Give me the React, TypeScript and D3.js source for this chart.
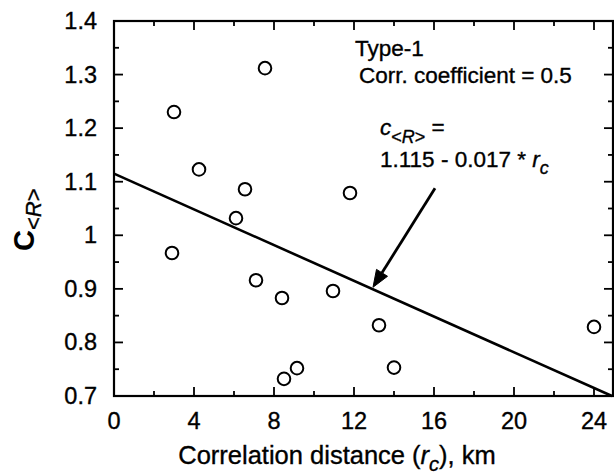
import React from "react";
import * as d3 from "d3";

const pointX = [2.9, 3.0, 4.25, 6.55, 6.1, 7.55, 7.1, 8.4, 8.5, 9.15, 10.95, 13.25, 14.0, 24.0, 11.8];
const pointY = [0.967, 1.23, 1.123, 1.086, 1.032, 1.312, 0.916, 0.883, 0.732, 0.752, 0.896, 0.832, 0.753, 0.829, 1.079];

const fitX = [0, 24.9];
const fitY = [1.115, 0.7];

const arrowX = [16.05, 12.95];
const arrowY = [1.088, 0.903];

const xMajor = [0, 4, 8, 12, 16, 20, 24];
const xMinor = [2, 6, 10, 14, 18, 22];
const yMajor = [0.7, 0.8, 0.9, 1.0, 1.1, 1.2, 1.3, 1.4];
const yMinor = [0.75, 0.85, 0.95, 1.05, 1.15, 1.25, 1.35];
const yTickLabels = ["0.7", "0.8", "0.9", "1", "1.1", "1.2", "1.3", "1.4"];

const FONT = "'Liberation Sans', Arial, Helvetica, sans-serif";

export default function App() {
  const W = 614, H = 475;
  const x = d3.scaleLinear().domain([0, 24.95]).range([114, 613]);
  const y = d3.scaleLinear().domain([0.7, 1.4]).range([396, 21]);
  const [x0, x1] = x.range();
  const [y0, y1] = y.range();

  const line = d3.line<number>().x((_, i) => x(fitX[i])).y((d) => y(d));

  // arrow geometry
  const ax0 = x(arrowX[0]), ay0 = y(arrowY[0]);
  const ax1 = x(arrowX[1]), ay1 = y(arrowY[1]);
  const ang = Math.atan2(ay1 - ay0, ax1 - ax0);
  const headLen = 17, headW = 6.5;
  const bx = ax1 - headLen * Math.cos(ang), by = ay1 - headLen * Math.sin(ang);
  const px = -Math.sin(ang), py = Math.cos(ang);
  const head = `M${ax1},${ay1} L${bx + px * headW},${by + py * headW} L${bx - px * headW},${by - py * headW} Z`;

  const majLen = 9, minLen = 5;
  const txtStroke = { stroke: "#000", strokeWidth: 0.35 };

  return (
    <svg width={W} height={H} style={{ position: "absolute", left: 0, top: 0, background: "#fff" }} fontFamily={FONT}>
      {/* ticks */}
      <g stroke="#000" strokeWidth={1.8}>
        {xMajor.map((v) => (
          <g key={"xm" + v}>
            <line x1={x(v)} x2={x(v)} y1={y0} y2={y0 - majLen} />
            <line x1={x(v)} x2={x(v)} y1={y1} y2={y1 + majLen} />
          </g>
        ))}
        {xMinor.map((v) => (
          <g key={"xn" + v}>
            <line x1={x(v)} x2={x(v)} y1={y0} y2={y0 - minLen} />
            <line x1={x(v)} x2={x(v)} y1={y1} y2={y1 + minLen} />
          </g>
        ))}
        {yMajor.map((v) => (
          <g key={"ym" + v}>
            <line x1={x0} x2={x0 + majLen} y1={y(v)} y2={y(v)} />
            <line x1={x1} x2={x1 - majLen} y1={y(v)} y2={y(v)} />
          </g>
        ))}
        {yMinor.map((v) => (
          <g key={"yn" + v}>
            <line x1={x0} x2={x0 + minLen} y1={y(v)} y2={y(v)} />
            <line x1={x1} x2={x1 - minLen} y1={y(v)} y2={y(v)} />
          </g>
        ))}
      </g>
      {/* frame */}
      <rect x={x0} y={y1} width={x1 - x0} height={y0 - y1} fill="none" stroke="#000" strokeWidth={2.2} />

      {/* tick labels */}
      <g fontSize={23.5} fill="#000" {...txtStroke}>
        {xMajor.map((v) => (
          <text key={"xl" + v} x={x(v)} y={429} textAnchor="middle">{v}</text>
        ))}
        {yMajor.map((v, i) => (
          <text key={"yl" + v} x={97} y={y(v) + 8} textAnchor="end">{yTickLabels[i]}</text>
        ))}
      </g>

      {/* fit line */}
      <path d={line(fitY) || ""} fill="none" stroke="#000" strokeWidth={2.6} />

      {/* points */}
      <g fill="none" stroke="#000" strokeWidth={2}>
        {pointX.map((v, i) => (
          <circle key={"p" + i} cx={x(v)} cy={y(pointY[i])} r={6.3} />
        ))}
      </g>

      {/* arrow */}
      <line x1={ax0} y1={ay0} x2={bx} y2={by} stroke="#000" strokeWidth={2.8} />
      <path d={head} fill="#000" stroke="#000" strokeWidth={1} />

      {/* annotations */}
      <g fontSize={22.5} fill="#000" {...txtStroke}>
        <text x={355} y={56}>Type-1</text>
        <text x={359} y={83}>Corr. coefficient = 0.5</text>
        <text x={380} y={135}>
          <tspan fontStyle="italic">c</tspan>
          <tspan dy={8} fontSize={18}>&lt;<tspan fontStyle="italic">R</tspan>&gt;</tspan>
          <tspan dy={-8}> =</tspan>
        </text>
        <text x={380} y={167}>
          1.115 - 0.017 * <tspan fontStyle="italic">r</tspan>
          <tspan dy={7} fontSize={18} fontStyle="italic">c</tspan>
        </text>
      </g>

      {/* x axis title */}
      <text x={337} y={464} fontSize={25.5} textAnchor="middle" fill="#000" {...txtStroke}>
        Correlation distance (<tspan fontStyle="italic">r</tspan>
        <tspan dy={7} fontSize={20} fontStyle="italic">c</tspan>
        <tspan dy={-7}>), km</tspan>
      </text>

      {/* y axis title */}
      <text transform="translate(34,251) rotate(-90)" fill="#000">
        <tspan fontSize={29} fontWeight="bold">C</tspan>
        <tspan dy={7} fontSize={22} {...txtStroke}>&lt;<tspan fontStyle="italic">R</tspan>&gt;</tspan>
      </text>
    </svg>
  );
}
